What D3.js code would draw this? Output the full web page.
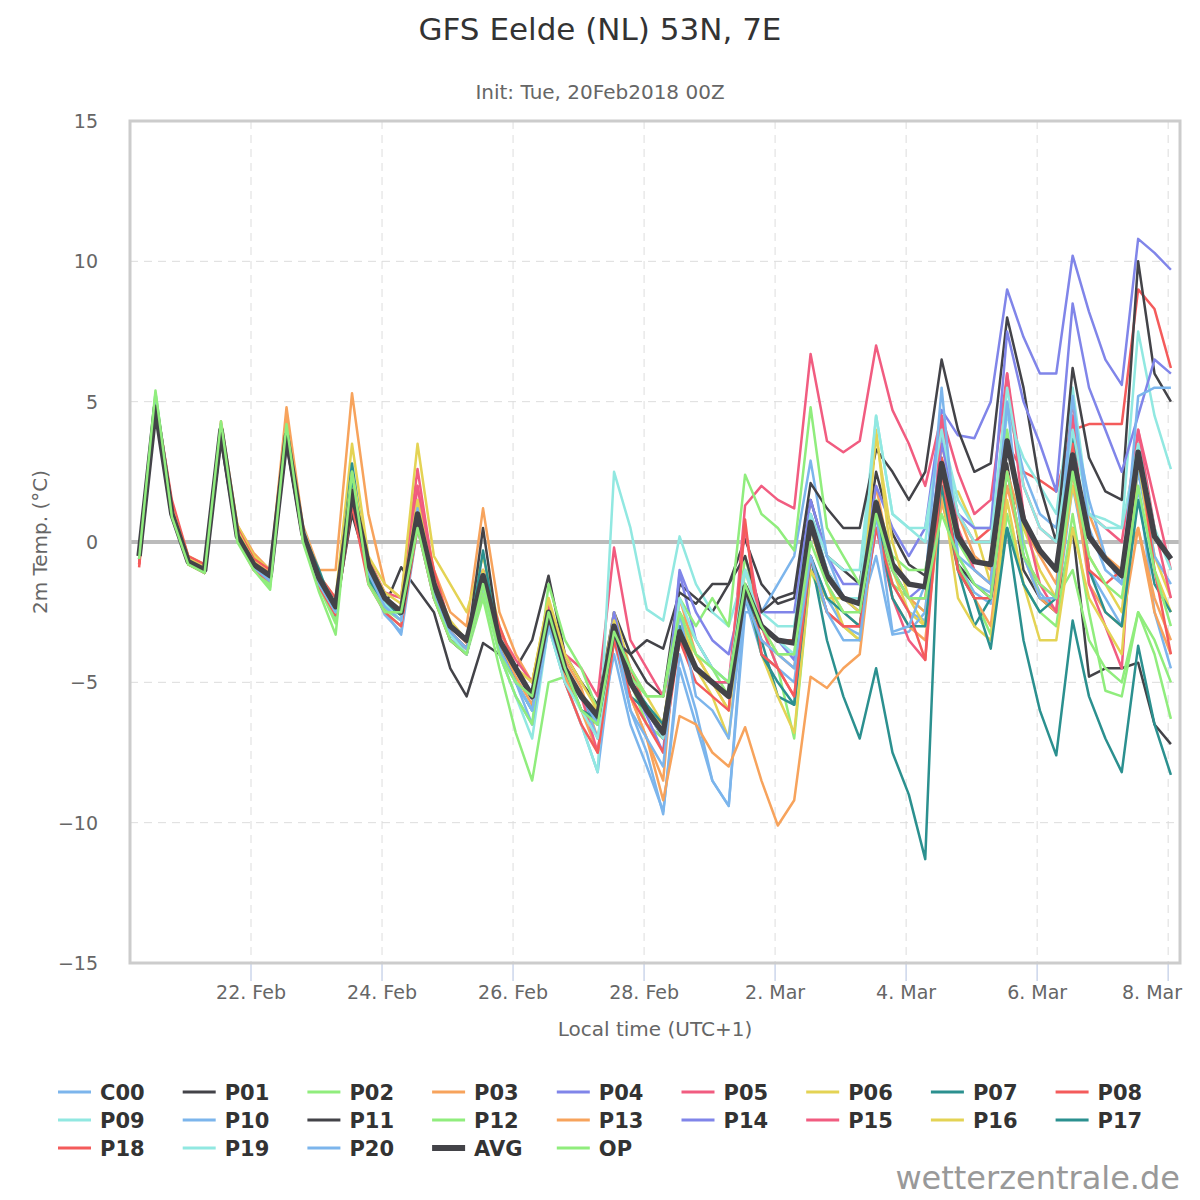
<!DOCTYPE html>
<html><head><meta charset="utf-8">
<script src="https://cdn.jsdelivr.net/npm/d3@7"></script>
<style>body{margin:0;background:#fff}text{font-family:"DejaVu Sans",sans-serif}</style>
</head><body><svg id="c" width="1200" height="1200"></svg>
<script>
const seriesNames=["C00","P01","P02","P03","P04","P05","P06","P07","P08","P09","P10","P11","P12","P13","P14","P15","P16","P17","P18","P19","P20","AVG","OP"];
const seriesColors=["#7cb5ec","#434348","#90ed7d","#f7a35c","#8085e9","#f15c80","#e4d354","#2b908f","#f45b5b","#91e8e1","#7cb5ec","#434348","#90ed7d","#f7a35c","#8085e9","#f15c80","#e4d354","#2b908f","#f45b5b","#91e8e1","#7cb5ec","#434348","#90ed7d"];
const yTicks=[-15,-10,-5,0,5,10,15];
const xTickDates=["2018-02-22","2018-02-24","2018-02-26","2018-02-28","2018-03-02","2018-03-04","2018-03-06","2018-03-08"];
const C00=[-0.6,5.1,1.2,-0.6,-0.9,4.2,0.4,-0.8,-1.5,4.0,0.4,-1.6,-2.6,2.2,-1.2,-2.6,-3.2,0.8,-1.8,-3.5,-4.0,-1.5,-4.0,-5.5,-6.5,-3.0,-5.0,-6.5,-8.2,-3.5,-6.0,-7.5,-9.7,-4.0,-6.0,-8.5,-9.4,-2.0,-4.0,-4.5,-5.0,-0.5,-2.0,-3.0,-3.3,0.5,-1.5,-2.5,-2.8,1.5,-0.8,-1.8,-2.2,2.5,-0.5,-1.8,-2.5,2.0,-1.0,-2.0,-3.0,2.0,-2.5,-4.5];
const P01=[-0.5,4.6,1.0,-0.6,-1.0,3.6,0.1,-0.8,-1.3,3.5,0.1,-1.5,-2.5,1.5,-1.3,-2.3,-0.9,-1.7,-2.5,-4.5,-5.5,-3.6,-4.0,-4.5,-3.5,-1.2,-4.0,-5.0,-5.8,-2.5,-4.0,-5.0,-5.5,-1.5,-2.0,-2.5,-1.5,0.1,-1.5,-2.2,-2.0,1.5,-0.5,-1.0,-1.5,2.5,0.3,-0.8,-1.2,2.0,-0.8,-1.5,-2.0,2.8,-1.0,-2.0,-2.5,0.5,-4.8,-4.5,-4.5,-4.3,-6.5,-7.2];
const P02=[-0.6,5.3,1.2,-0.8,-1.1,4.2,0.3,-0.9,-1.6,4.0,0.3,-1.5,-2.8,2.3,-1.3,-2.5,-3.0,0.6,-2.0,-3.5,-4.0,-2.0,-4.5,-6.8,-8.5,-5.0,-4.8,-5.5,-6.5,-3.2,-5.0,-6.5,-7.0,-2.5,-3.5,-4.5,-5.5,-0.5,-3.0,-4.5,-7.0,-1.0,-2.5,-3.0,-3.5,1.0,-1.5,-2.0,-2.5,1.5,-0.8,-2.0,-3.3,1.0,-1.5,-2.5,-3.0,1.0,-2.5,-5.3,-5.5,-2.5,-4.0,-6.3];
const P03=[-0.4,5.2,1.3,-0.5,-0.9,4.3,0.6,-0.4,-1.0,4.8,0.6,-1.0,-1.0,5.3,1.0,-1.5,-2.0,2.0,-1.0,-2.5,-3.0,1.2,-2.5,-4.0,-5.0,-2.2,-4.2,-5.2,-7.0,-3.5,-5.5,-7.0,-8.5,-2.0,-4.0,-5.0,-6.0,-1.5,-3.5,-4.0,-4.5,0.5,-1.5,-2.5,-3.0,2.0,-1.0,-2.0,-2.5,3.5,1.0,-0.5,-1.0,2.5,0.5,-0.5,-1.5,4.5,1.0,-0.5,-1.0,0.5,-2.0,-3.5];
const P04=[-0.5,5.0,1.1,-0.6,-0.9,4.0,0.3,-0.8,-1.3,3.9,0.3,-1.4,-2.4,1.9,-0.9,-2.1,-2.6,1.0,-1.6,-3.0,-3.6,-1.2,-3.6,-4.6,-5.6,-2.5,-4.6,-5.6,-6.0,-3.0,-5.0,-6.2,-7.5,-1.1,-3.5,-4.5,-5.0,-1.0,-2.5,-2.5,-2.5,1.5,-0.5,-1.5,-1.5,2.0,0.5,-0.5,0.5,4.7,3.8,3.7,5.0,9.0,7.3,6.0,6.0,10.2,8.2,6.5,5.6,10.8,10.3,9.7];
const P05=[-0.8,5.2,1.2,-0.6,-0.9,4.2,0.4,-0.8,-1.2,3.9,0.3,-1.5,-2.3,1.5,-0.6,-1.8,-2.0,2.6,-1.2,-3.0,-3.5,-1.0,-3.2,-4.2,-5.0,-2.3,-4.0,-4.5,-5.5,-0.2,-3.5,-4.5,-5.5,-3.0,-4.5,-5.0,-5.5,1.3,2.0,1.5,1.2,6.7,3.6,3.2,3.6,7.0,4.7,3.5,2.0,4.5,2.5,1.0,1.5,6.0,2.0,0.5,0.0,5.0,1.0,0.5,0.0,4.0,1.5,-1.0];
const P06=[-0.5,5.0,1.3,-0.5,-0.8,4.1,0.6,-0.5,-1.0,4.0,0.5,-1.2,-2.0,3.5,-0.5,-1.5,-2.0,3.5,-0.5,-1.5,-2.5,-0.5,-3.0,-4.5,-5.0,-2.0,-4.5,-5.5,-6.0,-2.5,-4.5,-5.5,-6.5,-3.0,-4.0,-5.0,-6.0,-1.0,-3.0,-4.0,-4.0,0.5,-1.5,-3.0,-3.5,4.0,-1.0,-2.5,-3.0,1.5,1.8,0.5,-1.5,3.5,0.5,-1.0,-2.0,2.0,-0.5,-1.5,-2.5,3.0,-0.5,-2.0];
const P07=[-0.5,4.9,1.0,-0.7,-1.0,3.9,0.2,-0.9,-1.3,3.7,0.2,-1.4,-2.5,2.8,-1.1,-2.3,-2.8,0.8,-1.8,-3.3,-4.0,-1.5,-3.8,-5.0,-6.0,-2.8,-4.8,-6.0,-6.5,-3.2,-5.5,-6.0,-7.0,-3.5,-4.5,-5.0,-5.0,-2.0,-3.5,-5.5,-5.8,-0.5,-3.5,-5.5,-7.0,-4.5,-7.5,-9.0,-11.3,3.0,-1.0,-3.0,-2.0,0.5,-3.5,-6.0,-7.6,-2.8,-5.5,-7.0,-8.2,-3.7,-6.5,-8.3];
const P08=[-0.8,5.1,1.5,-0.5,-0.8,4.0,0.5,-0.6,-1.0,3.9,0.4,-1.2,-2.0,1.5,-1.0,-2.0,-2.5,1.5,-1.0,-3.0,-3.5,-1.0,-3.0,-4.5,-5.5,-2.6,-4.5,-5.5,-6.5,-3.0,-4.5,-6.0,-6.5,-3.0,-4.5,-5.0,-5.5,-2.0,-3.0,-3.5,-3.5,0.5,-1.0,-2.0,-2.5,1.0,-1.0,-2.0,-2.0,3.0,1.0,0.0,0.5,3.5,2.5,2.2,1.8,4.0,4.2,4.2,4.2,9.0,8.3,6.2];
const P09=[-0.5,5.3,1.2,-0.7,-1.0,4.2,0.4,-0.8,-1.2,4.1,0.5,-1.2,-2.2,2.0,-0.8,-2.0,-2.5,1.2,-1.5,-3.0,-3.5,-1.5,-4.0,-5.5,-7.0,-3.0,-5.0,-6.5,-8.2,2.5,0.5,-2.4,-2.8,0.2,-1.5,-2.5,-3.0,-1.0,-2.5,-3.0,-3.0,1.0,-0.5,-1.0,-1.0,4.5,1.0,0.5,0.0,4.0,1.5,0.5,0.5,4.5,3.0,2.0,1.0,5.5,1.0,0.8,0.5,7.5,4.5,2.6];
const P10=[-0.6,5.0,1.1,-0.7,-1.0,4.0,0.2,-0.9,-1.4,3.8,0.2,-1.5,-2.6,1.6,-1.2,-2.5,-3.3,0.5,-2.0,-3.3,-3.8,-1.5,-3.8,-5.0,-6.5,-3.0,-4.5,-5.5,-7.0,-4.0,-6.5,-8.0,-9.6,-4.5,-6.5,-8.5,-9.4,-2.5,-2.5,-1.5,-0.5,2.9,-0.5,-2.0,-2.5,-0.5,-3.3,-3.2,-2.5,4.0,-0.5,-1.5,-1.8,5.0,2.5,1.0,0.5,4.5,1.5,-0.5,-1.5,2.5,-0.5,-1.5];
const P11=[-0.5,4.9,1.1,-0.7,-1.1,3.9,0.2,-0.9,-1.2,3.6,0.2,-1.4,-2.4,1.0,-1.0,-2.2,-2.6,1.2,-1.8,-3.2,-3.8,0.5,-3.5,-4.5,-5.5,-2.5,-4.5,-5.5,-6.5,-3.5,-4.0,-3.5,-3.8,-1.8,-2.2,-1.5,-1.5,-0.5,-2.5,-2.0,-1.8,2.1,1.2,0.5,0.5,3.3,2.5,1.5,2.5,6.5,4.0,2.5,2.8,8.0,5.5,2.0,0.0,6.2,3.0,1.8,1.5,10.0,6.0,5.0];
const P12=[-0.6,5.2,1.0,-0.8,-1.1,4.1,0.2,-1.0,-1.5,3.9,0.2,-1.6,-2.9,2.2,-1.4,-2.4,-2.8,0.8,-1.8,-3.2,-3.8,-1.8,-4.0,-5.5,-6.5,-1.5,-3.5,-4.5,-6.0,-2.8,-4.8,-5.5,-5.5,-2.0,-3.0,-2.0,-3.0,2.4,1.0,0.5,-0.3,4.8,0.5,-0.5,-1.5,1.5,-0.5,-1.0,-1.0,2.0,0.0,-1.0,-1.5,4.0,0.0,-2.0,-2.0,-1.0,-3.5,-4.5,-5.0,-2.5,-3.5,-5.0];
const P13=[-0.5,5.0,1.2,-0.6,-0.9,4.1,0.4,-0.7,-1.1,4.5,0.4,-1.3,-2.2,1.9,-0.8,-2.0,-2.4,1.0,-1.3,-3.0,-3.6,-1.3,-3.6,-4.8,-5.8,-2.5,-4.8,-6.0,-7.5,-3.5,-5.5,-7.0,-9.2,-6.2,-6.5,-7.5,-8.0,-6.6,-8.5,-10.1,-9.2,-4.8,-5.2,-4.5,-4.0,1.0,-2.0,-3.0,-3.5,1.5,-1.0,-2.0,-3.0,2.0,-0.5,-2.0,-2.5,2.5,-1.5,-2.5,-3.0,0.5,-2.5,-4.0];
const P14=[-0.5,4.9,1.0,-0.7,-1.0,4.0,0.2,-0.8,-1.2,3.8,0.3,-1.3,-2.3,1.8,-0.9,-2.0,-2.5,1.0,-1.5,-3.0,-3.5,-1.2,-3.5,-4.5,-5.5,-2.5,-4.5,-5.5,-6.5,-2.5,-5.0,-6.0,-7.0,-1.0,-2.5,-3.5,-4.0,-1.5,-3.0,-3.5,-4.2,1.0,-1.0,-2.0,-2.5,1.0,-1.0,-2.0,-1.5,3.5,1.0,0.5,0.5,7.5,5.0,3.5,1.8,8.5,5.5,4.0,2.5,4.5,6.5,6.0];
const P15=[-0.5,5.0,1.1,-0.6,-1.0,4.0,0.3,-0.8,-1.3,3.8,0.3,-1.4,-2.4,1.7,-0.9,-2.1,-2.5,2.0,-1.5,-3.2,-3.8,-1.3,-3.5,-4.5,-5.5,-2.7,-4.5,-5.5,-7.5,-3.0,-5.0,-6.0,-7.0,-3.5,-4.5,-5.0,-5.0,0.5,-3.0,-4.5,-5.5,-0.5,-2.5,-3.0,-3.0,0.5,-2.0,-3.5,-4.2,4.5,0.5,-1.0,-1.5,6.0,1.0,-1.5,-2.5,4.5,-1.5,-3.0,-4.5,4.0,0.5,-2.0];
const P16=[-0.5,5.0,1.2,-0.6,-0.9,4.1,0.4,-0.7,-1.2,3.9,0.3,-1.3,-2.3,2.5,-0.7,-1.8,-2.2,1.5,-1.5,-2.8,-3.5,-1.0,-3.5,-4.5,-5.0,-2.0,-4.0,-5.0,-6.0,-2.8,-5.0,-6.0,-6.5,-2.5,-4.5,-5.5,-7.0,-1.5,-4.0,-5.5,-6.8,-1.0,-2.0,-2.0,-2.5,3.8,0.0,-2.0,-3.0,2.0,-2.0,-3.0,-3.5,1.5,-1.5,-3.5,-3.5,0.5,-2.0,-3.0,-4.0,3.0,-1.0,-2.5];
const P17=[-0.5,4.9,1.1,-0.7,-1.0,4.0,0.2,-0.8,-1.2,3.7,0.3,-1.0,-2.6,2.3,-1.3,-2.2,-2.6,0.8,-1.8,-3.5,-4.0,-0.3,-3.8,-5.0,-6.0,-2.5,-4.5,-6.0,-6.3,-3.5,-5.0,-5.8,-6.5,-3.0,-4.5,-5.0,-5.5,-1.5,-4.0,-5.0,-5.8,-0.5,-2.0,-2.5,-3.0,1.0,-2.0,-3.0,-3.0,2.0,-1.0,-2.0,-3.8,0.5,-1.5,-2.5,-2.0,3.8,-1.0,-2.5,-3.0,1.5,-1.5,-2.5];
const P18=[-0.9,5.0,1.0,-0.8,-1.1,3.9,0.1,-1.0,-1.4,3.6,0.1,-1.6,-2.6,1.3,-1.5,-2.5,-3.0,0.5,-2.0,-3.5,-4.0,-1.5,-3.5,-4.5,-5.5,-2.8,-5.0,-6.5,-7.5,-3.5,-5.5,-6.5,-7.5,-3.5,-5.0,-5.5,-6.0,0.8,-4.0,-4.5,-5.5,-0.5,-2.5,-3.0,-3.0,0.5,-1.5,-2.5,-4.2,2.5,-1.0,-2.0,-2.0,2.5,-0.5,-1.5,-2.0,3.5,-1.0,-1.5,-1.0,3.5,-1.0,-4.0];
const P19=[-0.5,5.1,1.1,-0.7,-1.0,4.1,0.3,-0.9,-1.3,3.9,0.3,-1.5,-2.5,1.8,-1.0,-2.2,-2.8,1.0,-1.8,-3.3,-4.0,-1.5,-4.0,-5.0,-6.0,-3.0,-5.0,-6.0,-7.0,-3.0,-5.0,-6.0,-7.0,-2.0,-3.5,-4.5,-5.0,-1.0,-3.0,-3.5,-4.0,1.0,-1.0,-2.0,-2.0,4.5,1.0,0.5,0.5,4.0,1.0,0.0,0.0,5.5,2.0,0.5,0.0,4.0,1.0,0.5,0.5,3.5,0.5,-1.0];
const P20=[-0.5,5.0,1.0,-0.7,-1.0,4.0,0.3,-0.9,-1.4,3.8,0.2,-1.5,-2.5,1.8,-1.1,-2.3,-2.8,1.2,-1.8,-3.2,-3.8,-1.5,-3.8,-5.0,-6.0,-3.0,-4.5,-5.5,-6.5,-3.0,-6.0,-7.0,-8.0,-2.5,-5.5,-6.0,-7.0,-2.0,-3.5,-4.0,-4.5,-0.5,-2.5,-3.5,-3.5,1.0,-3.2,-3.0,-1.5,5.5,-0.5,-1.0,-1.5,5.0,-0.5,-2.0,-2.0,5.2,0.5,-1.0,-1.5,5.2,5.5,5.5];
const AVG=[-0.5,4.8,1.0,-0.7,-1.0,4.0,0.2,-0.8,-1.2,3.8,0.3,-1.3,-2.3,1.8,-0.8,-2.0,-2.5,1.0,-1.5,-3.0,-3.5,-1.2,-3.5,-4.5,-5.5,-2.5,-4.5,-5.5,-6.2,-3.0,-5.0,-6.0,-6.8,-3.2,-4.5,-5.0,-5.5,-1.6,-3.0,-3.5,-3.6,0.7,-1.2,-2.0,-2.2,1.4,-0.8,-1.5,-1.6,2.8,0.2,-0.7,-0.8,3.6,0.8,-0.3,-1.0,3.1,0.2,-0.6,-1.2,3.2,0.2,-0.6];
const OP=[-0.6,5.4,0.9,-0.8,-1.1,4.3,0.0,-1.0,-1.7,4.2,0.0,-1.8,-3.3,2.5,-1.5,-2.5,-2.5,0.5,-2.0,-3.5,-4.0,-1.5,-4.0,-5.0,-5.5,-2.5,-4.5,-6.0,-6.5,-3.2,-4.5,-5.5,-5.5,-2.5,-4.0,-4.5,-5.0,-1.5,-3.0,-4.0,-4.0,0.0,-1.5,-2.5,-2.5,1.0,-1.0,-2.0,-2.0,1.0,-0.5,-1.5,-2.0,2.5,-0.5,-1.5,-2.0,2.5,-0.5,-1.5,-2.0,2.0,-1.0,-3.0];
const seriesValues=[C00,P01,P02,P03,P04,P05,P06,P07,P08,P09,P10,P11,P12,P13,P14,P15,P16,P17,P18,P19,P20,AVG,OP];

const svg=d3.select("#c");
const L=130,R=1180,T=121,B=963;
const start=Date.UTC(2018,1,20,7);
const x=d3.scaleUtc().domain([Date.UTC(2018,1,20,3,40),Date.UTC(2018,2,8,4,20)]).range([L,R]);
const y=d3.scaleLinear().domain([-15,15]).range([B,T]);
const g=svg.append("g");
g.selectAll(".hg").data(yTicks).join("line").attr("x1",L).attr("x2",R).attr("y1",d=>y(d)).attr("y2",d=>y(d)).attr("stroke","#ddd").attr("stroke-dasharray","8,6");
const xd=xTickDates.map(s=>new Date(s+"T00:00:00Z"));
g.selectAll(".vg").data(xd).join("line").attr("x1",d=>x(d)).attr("x2",d=>x(d)).attr("y1",T).attr("y2",B).attr("stroke","#ddd").attr("stroke-dasharray","8,6");
g.selectAll(".tk").data(xd).join("line").attr("x1",d=>x(d)).attr("x2",d=>x(d)).attr("y1",B).attr("y2",B+18).attr("stroke","#ccd6eb").attr("stroke-width",1.5);
g.append("line").attr("x1",L).attr("x2",R).attr("y1",y(0)).attr("y2",y(0)).attr("stroke","#bbb").attr("stroke-width",4);
svg.append("clipPath").attr("id","cp").append("rect").attr("x",L).attr("y",T).attr("width",R-L).attr("height",B-T);
const line=d3.line().x((d,i)=>x(start+i*6*3600e3)).y(d=>y(d));
const order=seriesNames.map((n,i)=>i).filter(i=>seriesNames[i]!=="AVG"&&seriesNames[i]!=="OP");
order.push(seriesNames.indexOf("AVG"));order.push(seriesNames.indexOf("OP"));
const lg=svg.append("g").attr("clip-path","url(#cp)");
order.forEach(i=>{
  lg.append("path").attr("d",line(seriesValues[i])).attr("fill","none").attr("stroke",seriesColors[i])
   .attr("stroke-width",seriesNames[i]==="AVG"?5.5:2.5).attr("stroke-linejoin","round");
});
svg.append("rect").attr("x",L).attr("y",T).attr("width",R-L).attr("height",B-T).attr("fill","none").attr("stroke","#ccc").attr("stroke-width",3);
svg.selectAll(".yl").data(yTicks).join("text").attr("x",98).attr("y",d=>y(d)+7).attr("text-anchor","end").attr("font-size",19).attr("fill","#666").text(d=>d<0?"\u2212"+(-d):d);
const fmt=d3.utcFormat("%-d. %b");
svg.selectAll(".xl").data(xd).join("text").attr("x",(d,i)=>i===xd.length-1?1182:x(d)).attr("y",999).attr("text-anchor",(d,i)=>i===xd.length-1?"end":"middle").attr("font-size",19).attr("fill","#666").text(d=>fmt(d));
svg.append("text").attr("x",655).attr("y",1036).attr("text-anchor","middle").attr("font-size",20).attr("fill","#666").text("Local time (UTC+1)");
svg.append("text").attr("transform","translate(47,542) rotate(-90)").attr("text-anchor","middle").attr("font-size",20).attr("fill","#666").text("2m Temp. (°C)");
svg.append("text").attr("x",600).attr("y",40).attr("text-anchor","middle").attr("font-size",31).attr("fill","#333").text("GFS Eelde (NL) 53N, 7E");
svg.append("text").attr("x",600).attr("y",99).attr("text-anchor","middle").attr("font-size",20).attr("fill","#666").text("Init: Tue, 20Feb2018 00Z");
seriesNames.forEach((n,i)=>{
  const c=i%9,r=Math.floor(i/9);
  const lx=58+c*124.7,ly=1092+r*28;
  svg.append("line").attr("x1",lx).attr("x2",lx+33).attr("y1",ly).attr("y2",ly).attr("stroke",seriesColors[i]).attr("stroke-width",n==="AVG"?6:3);
  svg.append("text").attr("x",lx+42).attr("y",ly+8).attr("font-size",21).attr("font-weight","bold").attr("fill","#333").text(n);
});
svg.append("text").attr("x",1180).attr("y",1189).attr("text-anchor","end").attr("font-size",32).attr("fill","#999").text("wetterzentrale.de");
</script></body></html>
